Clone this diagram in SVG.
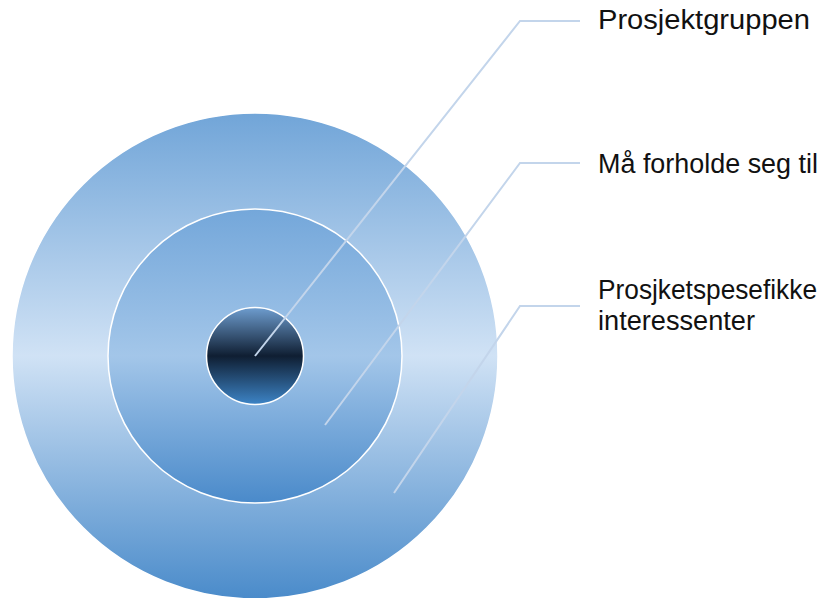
<svg xmlns="http://www.w3.org/2000/svg" width="825" height="598" viewBox="0 0 825 598">
  <defs>
    <linearGradient id="gOuter" x1="0" y1="0" x2="0" y2="1">
      <stop offset="0" stop-color="#71a5d8"/>
      <stop offset="0.5" stop-color="#d0e2f5"/>
      <stop offset="1" stop-color="#4a8bca"/>
    </linearGradient>
    <linearGradient id="gMiddle" x1="0" y1="0" x2="0" y2="1">
      <stop offset="0" stop-color="#74a7da"/>
      <stop offset="0.5" stop-color="#a3c6e9"/>
      <stop offset="1" stop-color="#4a8aca"/>
    </linearGradient>
    <linearGradient id="gInner" x1="0" y1="0" x2="0" y2="1">
      <stop offset="0" stop-color="#6e9dcf"/>
      <stop offset="0.5" stop-color="#0f1e32"/>
      <stop offset="1" stop-color="#3d84c6"/>
    </linearGradient>
  </defs>
  <style>
    .ring { stroke: #ffffff; stroke-width: 1.5; }
    .leader { fill: none; stroke: #c3d5eb; stroke-width: 2; }
    .label { font-family: "Liberation Sans", Arial, sans-serif; font-size: 27px; fill: #111111; }
  </style>

  <g id="outer-ring">
    <circle class="ring" cx="255" cy="356" r="243" fill="url(#gOuter)"/>
  </g>
  <g id="middle-ring">
    <circle class="ring" cx="255" cy="356" r="147" fill="url(#gMiddle)"/>
  </g>
  <g id="core">
    <circle class="ring" cx="255" cy="356" r="48.5" fill="url(#gInner)"/>
  </g>

  <g id="connectors">
    <polyline class="leader" points="255,356 520,21 580,21"/>
    <polyline class="leader" points="325,425 520,163 580,163"/>
    <polyline class="leader" points="394,493 520,306 580,306"/>
  </g>

  <g id="label-prosjektgruppen">
    <text class="label" x="598" y="29" textLength="212" lengthAdjust="spacingAndGlyphs">Prosjektgruppen</text>
  </g>
  <g id="label-maa-forholde">
    <text class="label" x="598" y="173" textLength="220" lengthAdjust="spacingAndGlyphs">Må forholde seg til</text>
  </g>
  <g id="label-interessenter">
    <text class="label" x="598" y="299" textLength="219" lengthAdjust="spacingAndGlyphs">Prosjketspesefikke</text>
    <text class="label" x="598" y="330" textLength="157" lengthAdjust="spacingAndGlyphs">interessenter</text>
  </g>
</svg>
